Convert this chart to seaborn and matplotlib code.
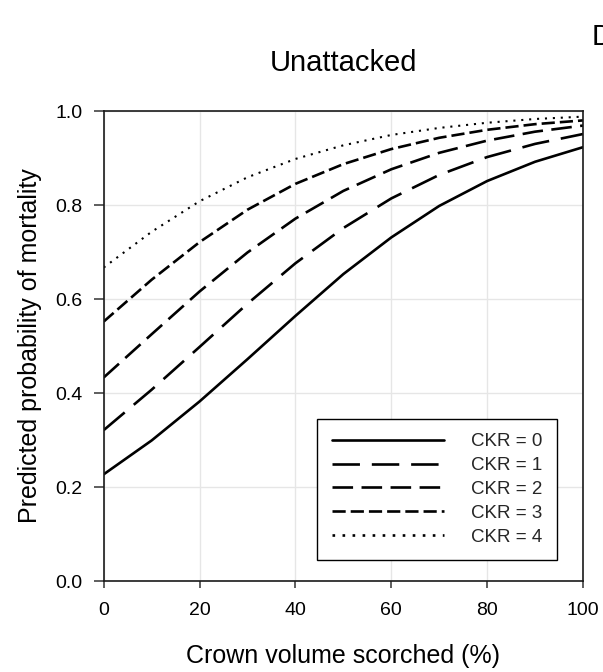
import matplotlib
matplotlib.use("Agg")
import matplotlib.pyplot as plt
import numpy as np
import pandas as pd
import seaborn as sns

# Crown volume scorched (%) at which the predictions are shown
scorch = [0, 10, 20, 30, 40, 50, 60, 70, 80, 90, 100]

# Predicted probability of mortality for each CKR class
ckr0 = [0.227, 0.299, 0.382, 0.472, 0.564, 0.653, 0.731, 0.798, 0.851, 0.892, 0.923]
ckr1 = [0.321, 0.407, 0.498, 0.590, 0.676, 0.751, 0.814, 0.864, 0.902, 0.930, 0.951]
ckr2 = [0.433, 0.525, 0.616, 0.699, 0.771, 0.830, 0.876, 0.911, 0.937, 0.956, 0.969]
ckr3 = [0.552, 0.641, 0.721, 0.790, 0.845, 0.887, 0.919, 0.943, 0.960, 0.972, 0.980]
ckr4 = [0.667, 0.743, 0.808, 0.859, 0.898, 0.927, 0.949, 0.964, 0.975, 0.983, 0.988]

labels = ["CKR = 0", "CKR = 1", "CKR = 2", "CKR = 3", "CKR = 4"]
series = [ckr0, ckr1, ckr2, ckr3, ckr4]

x_ticks = [0, 20, 40, 60, 80, 100]
y_ticks = [0.0, 0.2, 0.4, 0.6, 0.8, 1.0]

df = pd.DataFrame({
    "scorch": np.tile(scorch, len(series)),
    "prob": np.concatenate(series),
    "CKR": np.repeat(labels, len(scorch)),
})

sns.set_theme(style="whitegrid")
plt.rcParams["font.family"] = ["Liberation Sans", "DejaVu Sans"]

W, H = 603, 672
fig = plt.figure(figsize=(W / 100, H / 100), dpi=100)
left, right, top, bottom = 103.7, 583.0, 111.0, 581.0
ax = fig.add_axes([left / W, 1 - bottom / H, (right - left) / W, (bottom - top) / H])

dash_styles = {
    "CKR = 0": "",
    "CKR = 1": (10.4, 4.5),
    "CKR = 2": (7.8, 3.2),
    "CKR = 3": (5.0, 1.9),
    "CKR = 4": (1.0, 2.8),
}

sns.lineplot(data=df, x="scorch", y="prob", style="CKR", style_order=labels,
             dashes=dash_styles, color="black", linewidth=1.9,
             errorbar=None, ax=ax)

# the dotted curve is drawn a little finer than the others
for line in ax.get_lines():
    ydata = np.asarray(line.get_ydata(), dtype=float)
    if ydata.size == len(ckr4) and np.allclose(ydata, ckr4):
        line.set_linewidth(1.5)

ax.set_xlim(0, 100)
ax.set_ylim(0, 1)
ax.set_xticks(x_ticks)
ax.set_yticks(y_ticks)
ax.set_xticklabels([str(v) for v in x_ticks])
ax.set_yticklabels([f"{v:.1f}" for v in y_ticks])

ax.grid(True, color="#e6e6e6", linewidth=1.0)
ax.set_axisbelow(True)
ax.set_facecolor("white")
for side in ["left", "bottom", "top", "right"]:
    ax.spines[side].set_visible(True)
    ax.spines[side].set_color("#1a1a1a")
    ax.spines[side].set_linewidth(1.2)

ax.tick_params(axis="y", which="major", direction="out", length=7, width=1.1,
               color="#333333", pad=8, labelsize=14, labelcolor="black", left=True)
ax.tick_params(axis="x", which="major", direction="out", length=5, width=1.1,
               color="#333333", pad=10, labelsize=14, labelcolor="black", bottom=True)

ax.set_xlabel("Crown volume scorched (%)", fontsize=18, color="black", labelpad=18)
ax.set_ylabel("Predicted probability of mortality", fontsize=18, color="black")
ax.yaxis.set_label_coords(-0.128, 0.5)
ax.set_title("Unattacked", fontsize=21, color="black", pad=29)

handles, _ = ax.get_legend_handles_labels()
leg = ax.legend(handles[-5:], labels, loc="lower right", bbox_to_anchor=(0.945, 0.045),
                borderaxespad=0, fontsize=13.5, handlelength=6.0, handletextpad=1.45,
                borderpad=0.75, labelspacing=0.36, frameon=True, fancybox=False,
                framealpha=1, edgecolor="black")
leg.get_frame().set_linewidth(1.0)

# panel letter, partly running off the right edge of the figure
fig.text(592 / W, 1 - 23 / H, "D", fontsize=21, ha="left", va="top", color="black")

fig.savefig("out.png", dpi=100)
